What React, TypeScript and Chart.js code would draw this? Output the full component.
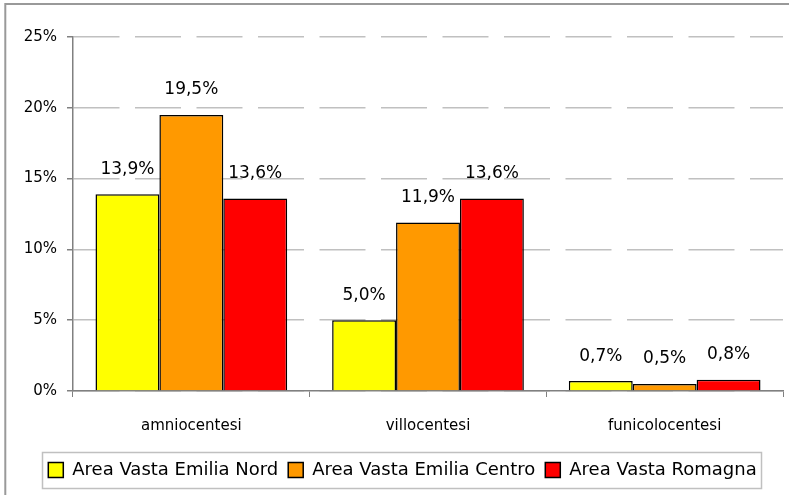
import React, { useEffect, useRef } from "react";
import { Chart, registerables } from "chart.js";

Chart.register(...registerables);

const categories = ["amniocentesi", "villocentesi", "funicolocentesi"];
const seriesNames = ["Area Vasta Emilia Nord", "Area Vasta Emilia Centro", "Area Vasta Romagna"];
const emiliaNord = [13.9, 5.0, 0.7];
const emiliaCentro = [19.5, 11.9, 0.5];
const romagna = [13.6, 13.6, 0.8];
const seriesColors = ["#FFFF00", "#FF9900", "#FF0000"];
const yMax = 25;
const yStep = 5;

const FONT = "'DejaVu Sans', sans-serif";

const fmt = (v: number) => v.toFixed(1).replace(".", ",") + "%";

const framePlugin = {
  id: "frame",
  beforeDraw(chart: any) {
    const ctx = chart.ctx;
    ctx.save();
    ctx.fillStyle = "#ffffff";
    ctx.fillRect(0, 0, chart.width, chart.height);
    ctx.strokeStyle = "#999999";
    ctx.lineWidth = 2;
    ctx.strokeRect(5.3, 4, chart.width + 20, chart.height + 20);
    ctx.restore();
  },
};

const legendShiftPlugin = {
  id: "legendShift",
  afterLayout(chart: any) {
    const lg = chart.legend;
    if (lg) {
      lg.left += 11;
      lg.right += 11;
    }
  },
};

const valueLabelPlugin = {
  id: "valueLabels",
  afterDatasetsDraw(chart: any) {
    const ctx = chart.ctx;
    ctx.save();
    ctx.font = `17px ${FONT}`;
    ctx.fillStyle = "#000000";
    ctx.textAlign = "center";
    ctx.textBaseline = "middle";
    chart.data.datasets.forEach((ds: any, di: number) => {
      const meta = chart.getDatasetMeta(di);
      meta.data.forEach((bar: any, i: number) => {
        ctx.fillText(fmt(ds.data[i]), bar.x, bar.y - 25);
      });
    });
    ctx.restore();
  },
};

const legendBorderPlugin = {
  id: "legendBorder",
  afterDraw(chart: any) {
    const lg = chart.legend;
    if (!lg || !lg.legendHitBoxes || !lg.legendHitBoxes.length) return;
    const hb = lg.legendHitBoxes;
    let l = Infinity, r = -Infinity, t = Infinity, b = -Infinity;
    hb.forEach((h: any) => {
      l = Math.min(l, h.left);
      r = Math.max(r, h.left + h.width);
      t = Math.min(t, h.top);
      b = Math.max(b, h.top + h.height);
    });
    const ctx = chart.ctx;
    ctx.save();
    ctx.strokeStyle = "#c0c0c0";
    ctx.lineWidth = 1.5;
    ctx.strokeRect(Math.round(l - 6) + 0.5, Math.round(t - 9) + 0.5, Math.round(r - l + 11), Math.round(b - t + 18));
    ctx.restore();
  },
};

export default function App() {
  const canvasRef = useRef<HTMLCanvasElement | null>(null);

  useEffect(() => {
    if (!canvasRef.current) return;
    const seriesValues = [emiliaNord, emiliaCentro, romagna];
    const chart = new Chart(canvasRef.current, {
      type: "bar",
      data: {
        labels: categories,
        datasets: seriesNames.map((name, i) => ({
          label: name,
          data: seriesValues[i],
          backgroundColor: seriesColors[i],
          borderColor: "#000000",
          borderWidth: 1.5,
          categoryPercentage: 0.81,
          barPercentage: 1,
        })),
      },
      options: {
        responsive: false,
        animation: false,
        layout: { padding: { left: 0, right: 6, top: 37, bottom: 6 } },
        plugins: {
          tooltip: { enabled: false },
          legend: {
            position: "bottom",
            labels: {
              font: { family: FONT, size: 18 },
              color: "#000000",
              boxWidth: 15,
              boxHeight: 15,
              padding: 10,
            },
          },
        },
        scales: {
          x: {
            grid: {
              drawOnChartArea: false,
              drawTicks: true,
              tickLength: 6,
              tickColor: "#808080",
              offset: true,
            },
            border: { display: true, color: "#808080", width: 1.5 },
            ticks: {
              font: { family: FONT, size: 15 },
              color: "#000000",
              padding: 20,
            },
            afterFit(scale: any) {
              scale.height = 60;
            },
          },
          y: {
            min: 0,
            max: yMax,
            ticks: {
              stepSize: yStep,
              font: { family: FONT, size: 15 },
              color: "#000000",
              padding: 10,
              callback: (v: any) => v + "%",
            },
            grid: {
              color: "#c0c0c0",
              lineWidth: 1.5,
              tickLength: 6,
              tickColor: "#808080",
              tickBorderDash: [],
            },
            border: { display: true, color: "#808080", width: 1.5, dash: [46, 15.5], dashOffset: 0 },
            afterFit(scale: any) {
              scale.width = 73;
            },
          },
        },
      },
      plugins: [framePlugin, legendShiftPlugin, valueLabelPlugin, legendBorderPlugin],
    } as any);
    return () => chart.destroy();
  }, []);

  return (
    <div style={{ position: "fixed", left: 0, top: 0, width: 789, height: 495, overflow: "hidden", background: "#fff" }}>
      <canvas ref={canvasRef} width={789} height={495} style={{ display: "block" }} />
    </div>
  );
}
